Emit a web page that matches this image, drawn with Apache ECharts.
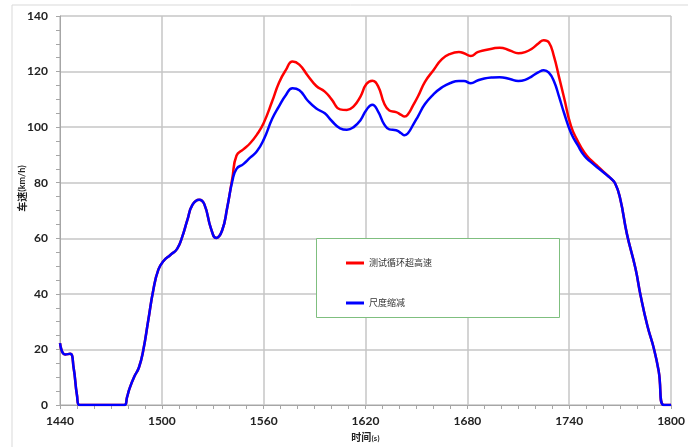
<!DOCTYPE html>
<html>
<head>
<meta charset="utf-8">
<script src="https://cdn.jsdelivr.net/npm/echarts@6/dist/echarts.min.js"></script>
<style>html,body{margin:0;padding:0;background:#fff;}#c{width:688px;height:447px;}</style>
</head>
<body>
<div id="c"></div>
<script>
// Time (s)
const timeS = [1440,1443,1446,1448,1450,1451.5,1478,1479.5,1481,1484,1486.5,1489,1492,1495,1498,1501,1505,1509,1512,1515,1518,1522,1525,1529,1532,1535.5,1538.5,1541.5,1544,1548,1552,1556,1560,1565,1569,1573,1577,1581,1586,1591,1596,1600,1605,1609,1613,1617,1620.5,1624,1627.5,1631,1634,1638,1641,1643,1645,1648,1651,1655,1660,1665,1670,1675,1678,1682,1686,1690,1695,1699,1705,1710,1714,1718,1722,1725,1728,1731,1734,1737,1741,1745,1749,1753,1757,1761,1764,1767,1770,1774,1779,1782,1786,1790,1792.7,1795.7,1800];
// 测试循环超高速 (red)
const speedTest = [22.3,18.2,18.4,13.5,3.5,0,0,2.8,6,10.5,13.5,19.5,30.5,41.5,48.8,51.8,54,56.2,60.5,66.5,72,73.9,72.3,63.4,60.1,62.8,71,81.5,89.8,92,94.2,97.3,101.5,109.3,116,120.5,123.6,122.5,118.5,114.8,112.8,110,106.4,106.2,107.5,111,115.5,116.7,114.6,108.5,106,105.4,104.4,103.8,104.6,107.8,111.2,116.3,120.5,124.5,126.4,127,126.6,125.6,127,127.7,128.3,128.6,127.6,126.6,127,128.2,130.2,131.3,130.5,125.5,118,110.5,100.5,95,90.8,88,85.8,83.5,81.8,79.8,74.3,61.5,49.2,39.5,28.6,20,12.2,0,0];
// 尺度缩减 (blue)
const speedScaled = [22.3,18.2,18.4,13.5,3.5,0,0,2.8,6,10.5,13.5,19.5,30.5,41.5,48.8,51.8,54,56.2,60.5,66.5,72,73.9,72.3,63.4,60.1,62.8,71,80.5,85,86.7,89,91.3,95.5,103,107.5,111.5,114,113.3,109.5,106.7,105,102.3,99.6,99.1,100,102.5,106.2,108.1,105.5,101,99.2,98.9,97.8,97.1,97.8,100.8,104,108.3,111.8,114.3,115.9,116.6,116.6,115.8,116.8,117.5,117.9,118,117.3,116.6,117,118.3,119.8,120.5,119.6,116.5,111,105,98,93.5,89.6,87.3,85.3,83.3,81.8,79.8,74.3,61.5,49.2,39.5,28.6,20,12.2,0,0];
const seriesNames = ['测试循环超高速','尺度缩减'];
const xTicks = {min:1440,max:1800,step:60};
const yTicks = {min:0,max:140,step:20};

const chart = echarts.init(document.getElementById('c'), null, {renderer:'canvas'});
const pair = (arr) => timeS.map((t,i)=>[t,arr[i]]);
const gridColor = '#c6c6c6';
const axisColor = '#a6a6a6';
const lblFont = 'Lato, "Liberation Sans", sans-serif';
const cjk = '"Noto Sans CJK SC", sans-serif';
chart.setOption({
  animation:false,
  backgroundColor:'#fff',
  graphic:[
    {type:'rect', shape:{x:12,y:5,width:700,height:470}, style:{fill:'none',stroke:'#d9d9d9',lineWidth:1}, silent:true, z:-10},
    {type:'rect', shape:{x:316.5,y:238.5,width:243,height:79}, style:{fill:'#fff',stroke:'#7fbf7f',lineWidth:1}, z:5}
  ],
  grid:{left:60,right:14,top:16,bottom:40,containLabel:false},
  legend:{
    data:seriesNames, orient:'vertical', left:341, top:252, itemGap:28,
    icon:'rect', itemWidth:18, itemHeight:3,
    textStyle:{fontFamily:cjk,fontSize:9,color:'#333',lineHeight:12},
    z:10
  },
  xAxis:{
    type:'value', min:xTicks.min, max:xTicks.max, interval:xTicks.step,
    name:'{a|时间}{b|(s)}', nameLocation:'middle', nameGap:27,
    nameTextStyle:{rich:{a:{fontFamily:cjk,fontSize:10,fontWeight:'bold',color:'#222'},b:{fontFamily:cjk,fontSize:7,fontWeight:'bold',color:'#222',padding:[3,0,0,0]}}},
    axisLine:{show:true,onZero:false,lineStyle:{color:axisColor,width:1}},
    axisTick:{show:true,length:4,lineStyle:{color:axisColor}},
    minorTick:{show:true,splitNumber:6,length:4,lineStyle:{color:axisColor}},
    splitLine:{show:true,lineStyle:{color:gridColor,width:1.5}},
    axisLabel:{fontFamily:lblFont,fontSize:12,fontWeight:'bold',color:'#222',margin:10,formatter:(v)=>String(v)}
  },
  yAxis:{
    type:'value', min:yTicks.min, max:yTicks.max, interval:yTicks.step,
    name:'{a|车速}{b|(km/h)}', nameLocation:'middle', nameGap:33, nameRotate:90, nameMoveOverlap:false,
    nameTextStyle:{padding:[0,0,0,44],rich:{a:{fontFamily:cjk,fontSize:10,fontWeight:'bold',color:'#222'},b:{fontFamily:lblFont,fontSize:9,fontWeight:'bold',color:'#222'}}},
    axisLine:{show:true,lineStyle:{color:axisColor,width:1}},
    axisTick:{show:true,length:4,lineStyle:{color:axisColor}},
    minorTick:{show:true,splitNumber:4,length:4,lineStyle:{color:axisColor}},
    splitLine:{show:true,lineStyle:{color:gridColor,width:1.5}},
    axisLabel:{fontFamily:lblFont,fontSize:12,fontWeight:'bold',color:'#222',margin:12}
  },
  series:[
    {name:seriesNames[0], type:'line', data:pair(speedTest), smooth:0.5, symbol:'none', showSymbol:false,
     lineStyle:{color:'#ff0000',width:2.5}, itemStyle:{color:'#ff0000'}, z:3},
    {name:seriesNames[1], type:'line', data:pair(speedScaled), smooth:0.5, symbol:'none', showSymbol:false,
     lineStyle:{color:'#0000ff',width:2.5}, itemStyle:{color:'#0000ff'}, z:4}
  ]
});
</script>
</body>
</html>
